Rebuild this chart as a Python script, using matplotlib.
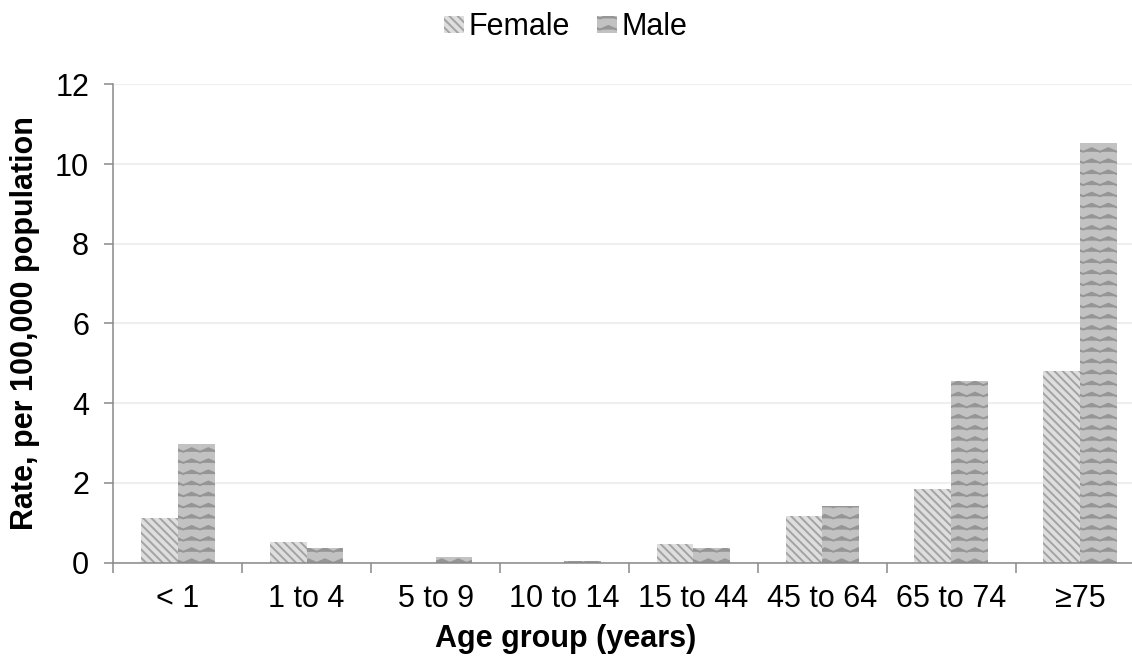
import numpy as np
import matplotlib
matplotlib.use('Agg')
import matplotlib.pyplot as plt
import matplotlib.hatch as mhatch
from matplotlib.path import Path

# age groups and rates per 100,000
grupos = ['< 1', '1 to 4', '5 to 9', '10 to 14', '15 to 44', '45 to 64', '65 to 74', '≥75']
female = [1.11, 0.52, 0.0, 0.0, 0.48, 1.17, 1.84, 4.80]
male = [2.97, 0.36, 0.15, 0.05, 0.36, 1.42, 4.55, 10.52]


# zigzag hatch (takes the place of the plain '-' hatch)
class ZigZag(mhatch.HatchPatternBase):
    def __init__(self, hatch, density):
        self.num_rows = int(hatch.count('-') * density * 1.5)
        self.periods = 6
        self.pts = 2 * self.periods + 1
        self.num_vertices = self.num_rows * self.pts

    def set_vertices_and_codes(self, vertices, codes):
        xs = np.linspace(0, 1, self.pts)
        amp = np.where(np.arange(self.pts) % 2 == 0, -0.018, 0.018)
        for i in range(self.num_rows):
            y = (i + 0.5) / self.num_rows
            s = slice(i * self.pts, (i + 1) * self.pts)
            vertices[s, 0] = xs
            vertices[s, 1] = y + amp
            codes[s] = Path.LINETO
            codes[i * self.pts] = Path.MOVETO


mhatch._hatch_types = [ZigZag if t is mhatch.HorizontalHatch else t for t in mhatch._hatch_types]

plt.rcParams['font.family'] = ['Liberation Sans', 'DejaVu Sans']
plt.rcParams['hatch.linewidth'] = 1.4

fig = plt.figure(figsize=(11.32, 6.6), dpi=100)
ax = fig.add_axes([0.1001, 0.1474, 0.911, 0.7249])

x = np.arange(len(grupos))
w = 0.285
ax.bar(x - w / 2, female, w, color='#dedede', edgecolor='#a3a3a3', linewidth=0,
       hatch=chr(92) * 4, label='Female', zorder=2)
ax.bar(x + w / 2, male, w, color='#c2c2c2', edgecolor='#959595', linewidth=0,
       hatch='-', label='Male', zorder=2)

ax.set_xlim(-0.5, len(grupos) - 0.5)
ax.set_ylim(0, 12)
ax.set_yticks(range(0, 13, 2))
ax.set_xticks(np.arange(-0.5, len(grupos), 1))
ax.set_xticklabels([])
ax.set_xticks(x, minor=True)
ax.set_xticklabels(grupos, minor=True)
ax.tick_params(axis='x', which='minor', length=0, labelsize=22, pad=15)
ax.tick_params(axis='x', which='major', length=7, width=1.1, color='#898989', direction='out')
ax.tick_params(axis='y', length=6.5, width=1.1, color='#898989', labelsize=22, pad=11)

ax.grid(axis='y', color='#efefef', linewidth=1.5, zorder=0)
ax.set_axisbelow(True)
for s in ['top', 'right']:
    ax.spines[s].set_visible(False)
for s in ['left', 'bottom']:
    ax.spines[s].set_color('#898989')
    ax.spines[s].set_linewidth(1.1)

ax.set_xlabel('Age group (years)', fontsize=22, fontweight='bold')
ax.xaxis.set_label_coords(0.439, -0.128)
ax.set_ylabel('Rate, per 100,000 population', fontsize=22, fontweight='bold')
ax.yaxis.set_label_coords(-0.071, 0.5)

fig.legend(loc='center', bbox_to_anchor=(0.5, 0.959), ncol=2, frameon=False,
           fontsize=22, handlelength=0.65, handleheight=0.5, handletextpad=0.16,
           columnspacing=0.88)

fig.savefig('out.png', dpi=100)
